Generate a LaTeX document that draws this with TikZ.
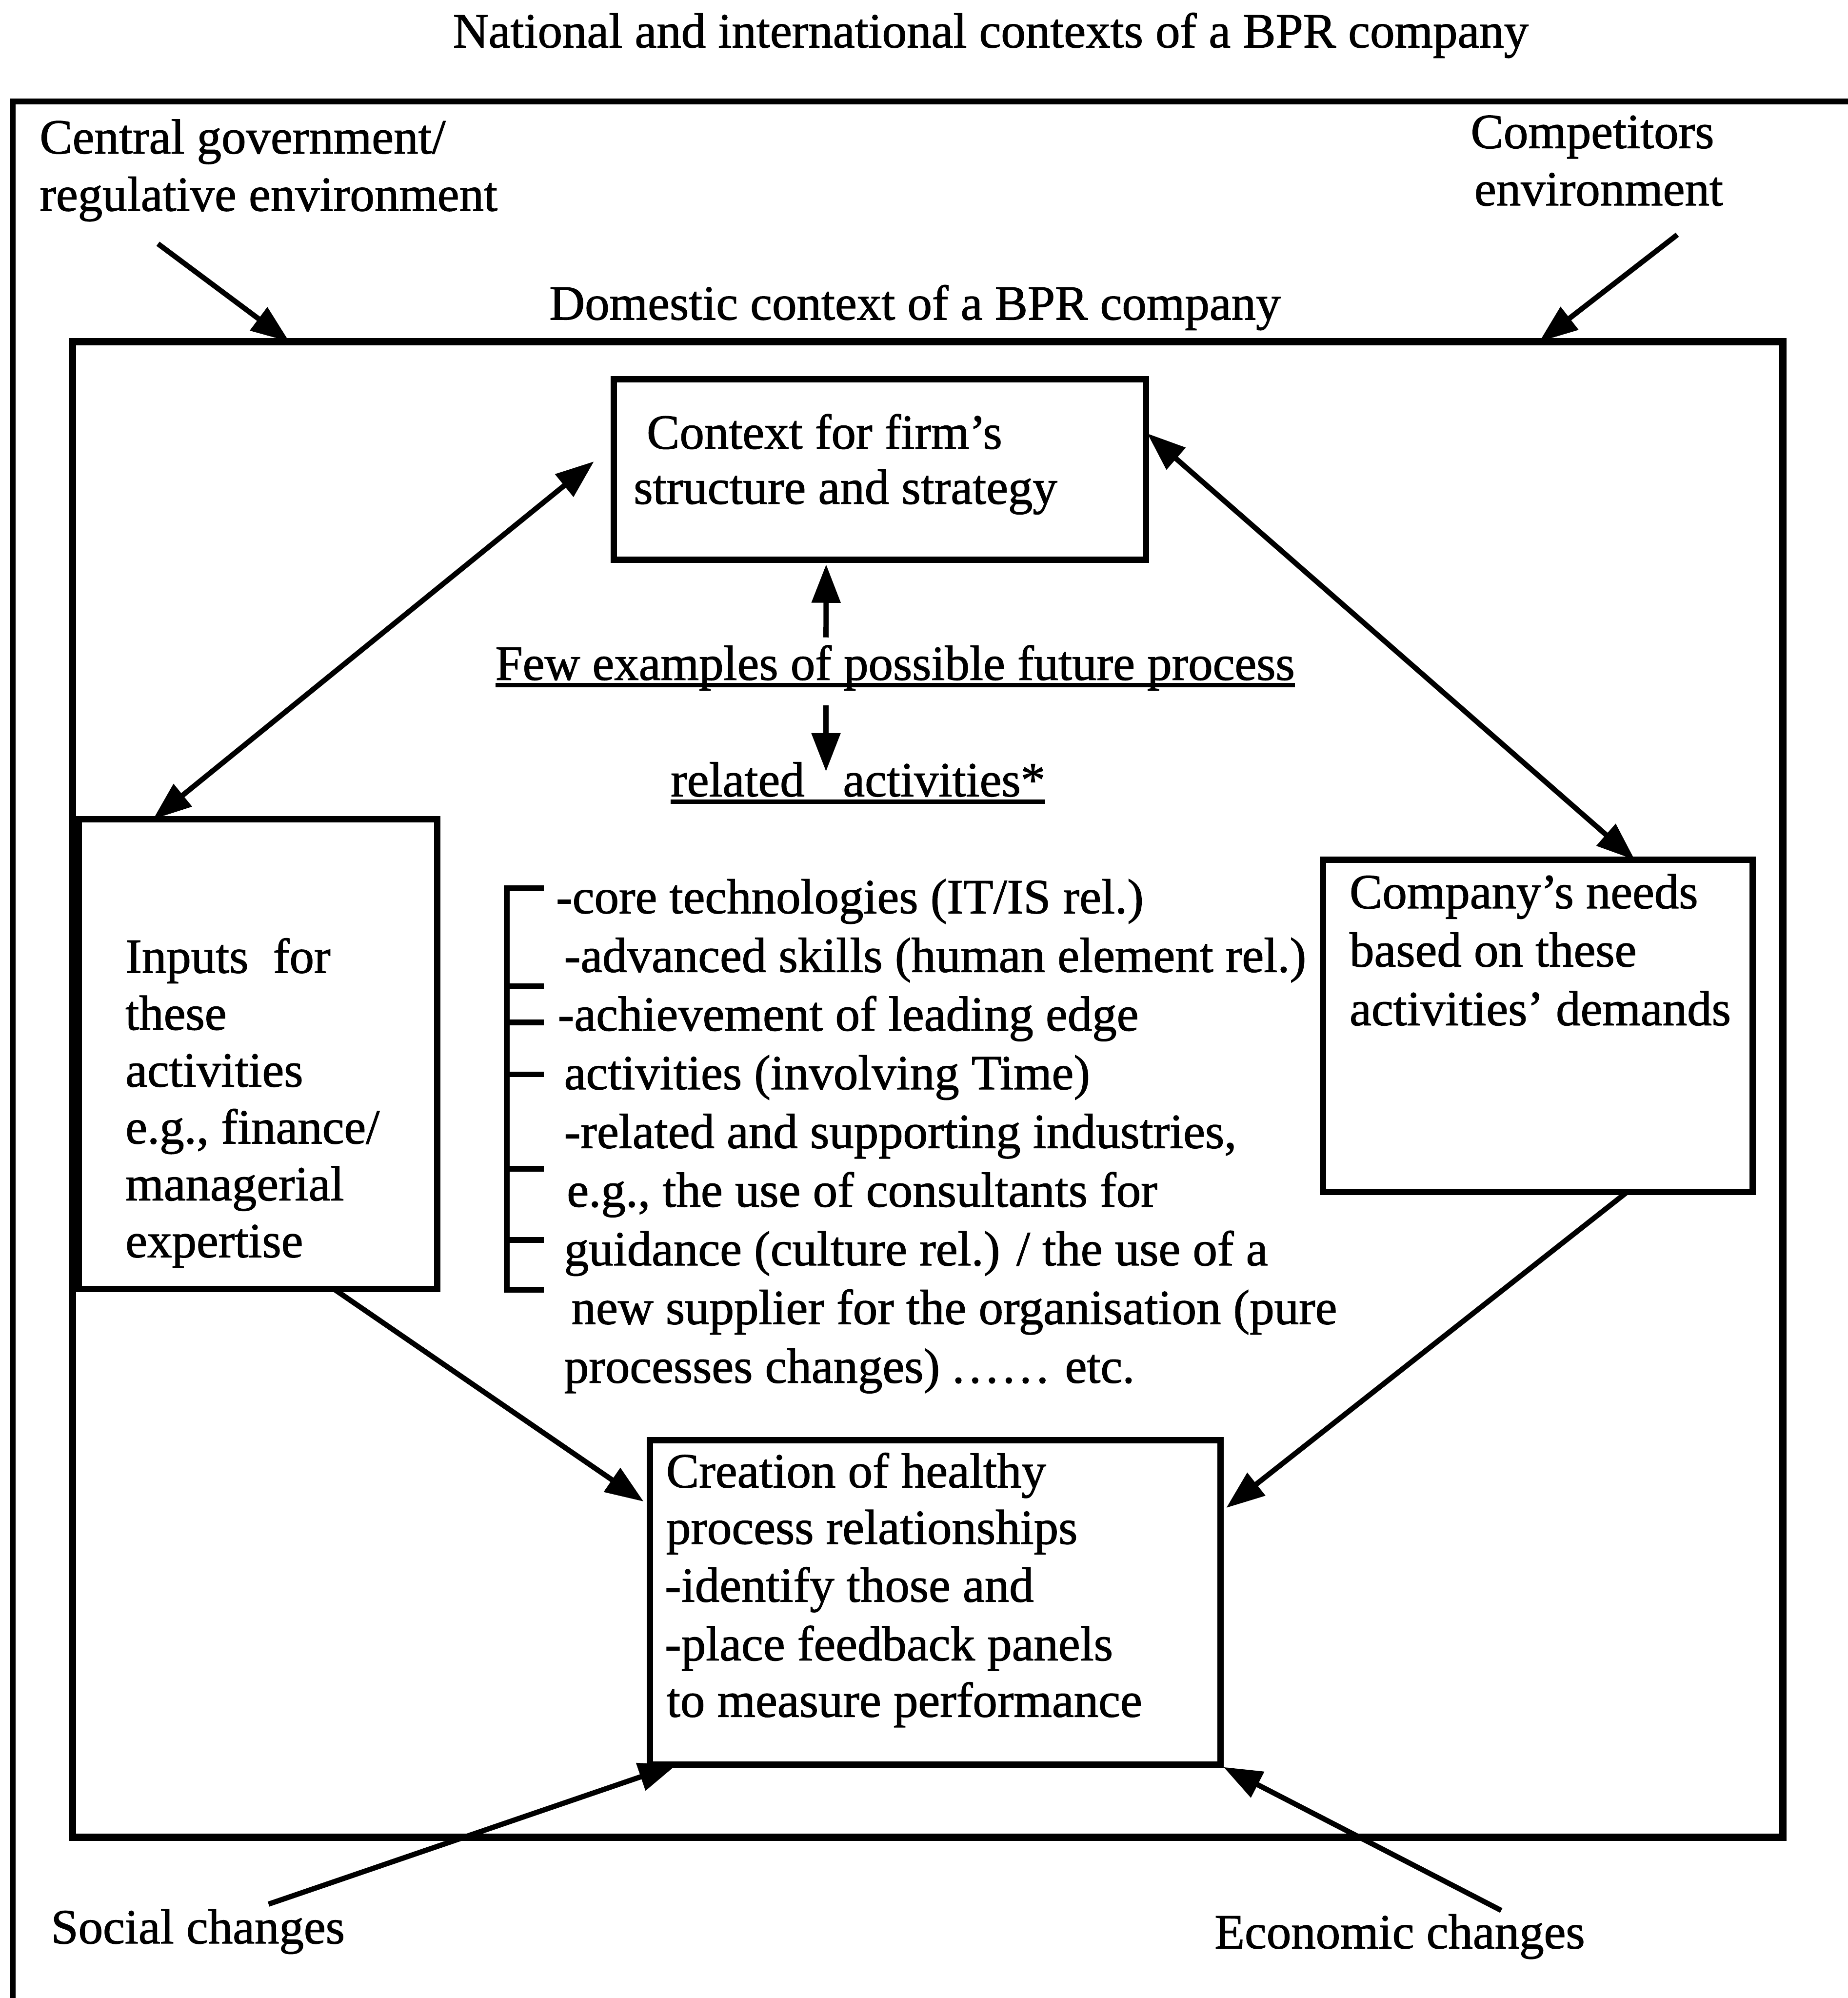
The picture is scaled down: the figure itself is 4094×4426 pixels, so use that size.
\documentclass[tikz,border=0pt]{standalone}
\usepackage{fontspec}
\setmainfont{Liberation Serif}[FakeBold=1.2]
\usetikzlibrary{arrows.meta,calc}

\begin{document}
\begin{tikzpicture}[x=0.01cm,y=-0.01cm,
  txt/.style={inner sep=0pt, outer sep=0pt, font=\fontsize{31}{36}\selectfont},
  panel/.style={draw, line width=4pt, inner sep=0pt, outer sep=0pt, anchor=north west},
  outerline/.style={line width=3.8pt},
  link/.style={line width=3.3pt, -{Triangle[length=0.85cm,width=0.62cm]}},
  dlink/.style={line width=3.3pt, {Triangle[length=0.85cm,width=0.62cm]}-{Triangle[length=0.85cm,width=0.62cm]}},
  uline/.style={line width=2.8pt},
  brk/.style={line width=3.6pt},
]
\useasboundingbox (0,0) rectangle (4094,4426);

% national / international frame (open to the right and below)
\draw[outerline] (4094,225) -- (28,225) -- (28,4426);

% domestic frame and the four boxes
\node[panel, line width=4.5pt, minimum width=37.87cm, minimum height=33.11cm] (dom) at (161,757) {};
\node[panel, minimum width=11.78cm, minimum height=4.0cm] (ctx) at (1360,840) {};
\node[panel, minimum width=7.93cm, minimum height=10.40cm] (inp) at (175,1815) {};
\node[panel, minimum width=9.51cm, minimum height=7.35cm] (cmp) at (2931,1905) {};
\node[panel, minimum width=12.63cm, minimum height=7.18cm] (crt) at (1440,3190) {};

% headings and outside labels
\node[txt, anchor=base] (title) at (2195,105) {National and international contexts of a BPR company};
\node[txt, anchor=base] (domt) at (2027,708) {Domestic context of a BPR company};
\node[txt, anchor=base west] (gov1) at (88,340) {Central government/};
\node[txt, anchor=base west] (gov2) at (88,467) {regulative environment};
\node[txt, anchor=base] (comp1) at (3528,328) {Competitors};
\node[txt, anchor=base] (comp2) at (3542,455) {environment};
\node[txt, anchor=base west] (soc) at (113,4305) {Social changes};
\node[txt, anchor=base west] (econ) at (2691,4316) {Economic changes};

% box texts
\node[txt, anchor=base west] (ctx1) at (1433,994) {Context for firm’s};
\node[txt, anchor=base west] (ctx2) at (1404,1116) {structure and strategy};

\node[txt, anchor=base west] (inp1) at (278,2155) {Inputs\ \ for};
\node[txt, anchor=base west] (inp2) at (278,2281) {these};
\node[txt, anchor=base west] (inp3) at (278,2407) {activities};
\node[txt, anchor=base west] (inp4) at (278,2533) {e.g., finance/};
\node[txt, anchor=base west] (inp5) at (278,2659) {managerial};
\node[txt, anchor=base west] (inp6) at (278,2785) {expertise};

\node[txt, anchor=base west] (cmp1) at (2990,2012) {Company’s needs};
\node[txt, anchor=base west] (cmp2) at (2990,2141) {based on these};
\node[txt, anchor=base west] (cmp3) at (2990,2271) {activities’ demands};

\node[txt, anchor=base west] (crt1) at (1476,3295) {Creation of healthy};
\node[txt, anchor=base west] (crt2) at (1476,3420) {process relationships};
\node[txt, anchor=base west] (crt3) at (1473,3548) {-identify those and};
\node[txt, anchor=base west] (crt4) at (1473,3678) {-place feedback panels};
\node[txt, anchor=base west] (crt5) at (1477,3803) {to measure performance};

% central headings
\node[txt, anchor=base] (few) at (1983,1506) {Few examples of possible future process};
\node[txt, anchor=base west] (rel) at (1486,1764) {related\hspace{0.85cm}activities*};
\draw[uline] ($(few.base west)+(0,12)$) -- ($(few.base east)+(0,12)$);
\draw[uline] ($(rel.base west)+(0,12)$) -- ($(rel.base east)+(0,12)$);

% list of activities
\node[txt, anchor=base west] (l1) at (1232,2023) {-core technologies (IT/IS rel.)};
\node[txt, anchor=base west] (l2) at (1250,2153) {-advanced skills (human element rel.)};
\node[txt, anchor=base west] (l3) at (1236,2283) {-achievement of leading edge};
\node[txt, anchor=base west] (l4) at (1250,2413) {activities (involving Time)};
\node[txt, anchor=base west] (l5) at (1250,2543) {-related and supporting industries,};
\node[txt, anchor=base west] (l6) at (1256,2673) {e.g., the use of consultants for};
\node[txt, anchor=base west] (l7) at (1250,2803) {guidance (culture rel.) / the use of a};
\node[txt, anchor=base west] (l8) at (1266,2933) {new supplier for the organisation (pure};
\node[txt, anchor=base west] (l9) at (1250,3063) {processes changes) .\hspace{0.1cm}.\hspace{0.1cm}.\hspace{0.1cm}.\hspace{0.1cm}.\hspace{0.1cm}. etc.};

% bracket beside the list
\draw[brk] (1205,1968) -- (1123,1968) -- (1123,2857) -- (1205,2857);
\foreach \yy in {2185,2265,2380,2589,2747}
  \draw[brk] (1123,\yy) -- (1205,\yy);

% connectors
\draw[link] ($(few.base)+(-153,-94)$) -- ($(ctx.south)+(-119,10)$);
\draw[link] ($(few.base)+(-153,56)$) -- ($(rel.base west)+(344,-55)$);
\draw[dlink] ($(ctx.west)+(-44,-18)$) -- ($(inp.north west)+(164,0)$);
\draw[dlink] ($(ctx.east)+(3,-80)$) -- ($(cmp.north west)+(691,0)$);
\draw[link] ($(inp.south west)+(565,0)$) -- ($(crt.west)+(-14,-223)$);
\draw[link] ($(cmp.south west)+(674,0)$) -- ($(crt.east)+(13,-209)$);
\draw[link] ($(soc.base west)+(482,-87)$) -- ($(crt.south west)+(60,0)$);
\draw[link] ($(econ.base west)+(635,-84)$) -- ($(crt.south east)+(7,6)$);
\draw[link] ($(gov2.base west)+(262,73)$) -- ($(dom.north west)+(480,0)$);
\draw[link] ($(comp2.base)+(174,65)$) -- ($(dom.north east)+(-540,0)$);

\end{tikzpicture}
\end{document}
